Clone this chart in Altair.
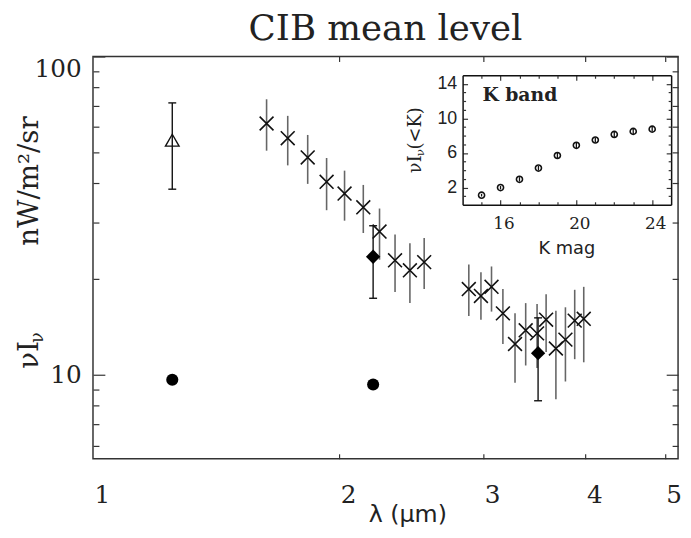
import altair as alt
import pandas as pd

# ---------------- data ----------------
# IRTS-like points (crosses) : wavelength (um), nuI_nu and 1-sigma range
cross_lam = [1.63, 1.73, 1.83, 1.93, 2.03, 2.14, 2.24, 2.34, 2.44, 2.54,
             2.88, 2.98, 3.07, 3.17, 3.28, 3.38, 3.49, 3.58, 3.68, 3.78, 3.88, 3.98]
cross_val = [61.6, 55.4, 48.2, 40.4, 37.1, 33.6, 28.2, 22.9, 21.3, 22.6,
             18.6, 17.7, 18.9, 15.6, 12.5, 13.8, 13.5, 14.9, 12.1, 12.9, 14.8, 15.0]
cross_lo = [50.6, 45.5, 39.8, 32.9, 30.5, 27.9, 23.0, 18.2, 16.8, 18.6,
            15.3, 14.9, 15.8, 12.5, 9.45, 10.7, 10.5, 11.8, 8.38, 9.53, 11.2, 10.95]
cross_hi = [73.4, 65.1, 56.7, 48.0, 43.8, 39.5, 33.3, 27.6, 25.9, 26.9,
            22.2, 21.0, 21.9, 18.6, 15.6, 16.8, 16.7, 17.9, 15.9, 16.3, 18.5, 18.9]

tri_lam = [1.25]
tri_val = [54.6]
tri_lo = [38.3]
tri_hi = [71.5]

dia_lam = [2.2, 3.5]
dia_val = [23.5, 11.7]
dia_lo = [17.4, 8.29]
dia_hi = [29.4, 15.1]

circ_lam = [1.25, 2.2]
circ_val = [9.65, 9.33]

# inset: K band integrated light
inset_k = [15, 16, 17, 18, 19, 20, 21, 22, 23, 24]
inset_v = [1.11, 1.99, 2.95, 4.25, 5.71, 6.89, 7.50, 8.15, 8.50, 8.76]
inset_err = [0.15, 0.2, 0.25, 0.25, 0.3, 0.3, 0.3, 0.3, 0.3, 0.3]

# tick labels
x_ticks = [1, 2, 3, 4, 5]
x_minor = [2, 3, 4, 5]
y_major = [10, 100]
y_minor = [6, 7, 8, 9, 20, 30, 40, 50, 60, 70, 80, 90]
ix_major = [16, 20, 24]
ix_minor = [15, 17, 18, 19, 21, 22, 23]
iy_major = [2, 6, 10, 14]
iy_minor = [1, 3, 4, 5, 7, 8, 9, 11, 12, 13]

# texts
title_text = "CIB mean level"
x_title = "λ (μm)"
y_title_main = "νI"
y_title_sub = "ν"
y_title_units = "nW/m²/sr"
inset_title_x = "K mag"
inset_y_parts = ["νI", "ν", "(<K)"]
inset_label = "K band"

# ---------------- layout ----------------
W, H = 592, 407
xs = alt.Scale(type="log", domain=[1, 5.19], nice=False)
ys = alt.Scale(type="log", domain=[5.45, 100], nice=False)
ixs = alt.Scale(type="linear", domain=[14, 25], range=[374, 585], nice=False, zero=False)
iys = alt.Scale(type="linear", domain=[0, 15], range=[150, 19], nice=False, zero=False)

cross_df = pd.DataFrame({"lam": cross_lam, "v": cross_val, "lo": cross_lo, "hi": cross_hi})
tri_df = pd.DataFrame({"lam": tri_lam, "v": tri_val, "lo": tri_lo, "hi": tri_hi})
dia_df = pd.DataFrame({"lam": dia_lam, "v": dia_val, "lo": dia_lo, "hi": dia_hi})
circ_df = pd.DataFrame({"lam": circ_lam, "v": circ_val})
ins_df = pd.DataFrame({"k": inset_k, "v": inset_v,
                       "lo": [a - b for a, b in zip(inset_v, inset_err)],
                       "hi": [a + b for a, b in zip(inset_v, inset_err)]})

INK = "#111"


def tick_axis(orient, offset, values, size, domain=False):
    return alt.Axis(orient=orient, offset=offset, values=values, labels=False,
                    ticks=True, tickSize=size, tickColor="#333", tickWidth=1.2,
                    domain=domain, domainColor=INK, domainWidth=1.5, grid=False)


def carrier(df, xf, yf, xscale, yscale, xaxis=None, yaxis=None):
    return alt.Chart(df).mark_point(opacity=0).encode(
        x=alt.X(f"{xf}:Q", scale=xscale, axis=xaxis, title=None),
        y=alt.Y(f"{yf}:Q", scale=yscale, axis=yaxis, title=None),
    )


layers = []

# ---- main axes ----
ax_x_lab = alt.Axis(orient="bottom", values=x_ticks, format="d", ticks=False, tickSize=0,
                    domain=False, grid=False, labelFont="DejaVu Serif", labelFontSize=25,
                    labelColor="#222", labelPadding=44, labelBaseline="alphabetic",
                    labelAlign="left", labelOffset=1, labelFlush=False,
                    titleFont="DejaVu Sans", titleFontSize=24, titleFontWeight="normal",
                    titleColor="#222", titleX=318, titleY=64, titleBaseline="alphabetic",
                    titleAlign="center")
ax_y_lab = alt.Axis(orient="left", values=y_major, format="d", ticks=False, tickSize=0,
                    domain=False, grid=False, labelFont="DejaVu Serif", labelFontSize=25,
                    labelColor="#222", labelPadding=12, labelFlush=True, labelFlushOffset=0)

layers.append(alt.Chart(circ_df).mark_point(opacity=0).encode(
    x=alt.X("lam:Q", scale=xs, axis=ax_x_lab, title=x_title),
    y=alt.Y("v:Q", scale=ys, axis=ax_y_lab, title=None)))
layers.append(carrier(circ_df, "lam", "v", xs, ys,
                      tick_axis("top", -H, x_minor, 5), tick_axis("right", -W, y_major, 12)))
layers.append(carrier(circ_df, "lam", "v", xs, ys,
                      tick_axis("bottom", -H, x_minor, 5), tick_axis("left", -W, y_major, 12)))
layers.append(carrier(circ_df, "lam", "v", xs, ys, None, tick_axis("right", -W, y_minor, 6)))
layers.append(carrier(circ_df, "lam", "v", xs, ys, None, tick_axis("left", -W, y_minor, 6)))

# ---- main data ----
layers.append(alt.Chart(cross_df).mark_rule(color="#666", strokeWidth=1.6).encode(
    x=alt.X("lam:Q", scale=xs, axis=None),
    y=alt.Y("lo:Q", scale=ys, axis=None), y2="hi:Q"))
layers.append(alt.Chart(cross_df).mark_point(
    shape="M-1,-1L1,1M-1,1L1,-1", filled=False, color=INK, strokeWidth=1.6, size=196, opacity=1
).encode(x=alt.X("lam:Q", scale=xs, axis=None), y=alt.Y("v:Q", scale=ys, axis=None)))

for df in (tri_df, dia_df):
    layers.append(alt.Chart(df).mark_rule(color=INK, strokeWidth=1.4).encode(
        x=alt.X("lam:Q", scale=xs, axis=None),
        y=alt.Y("lo:Q", scale=ys, axis=None), y2="hi:Q"))
    for f in ("lo", "hi"):
        layers.append(alt.Chart(df).mark_tick(orient="horizontal", size=8, thickness=1.4,
                                              color=INK, opacity=1).encode(
            x=alt.X("lam:Q", scale=xs, axis=None),
            y=alt.Y(f"{f}:Q", scale=ys, axis=None)))

layers.append(alt.Chart(tri_df).mark_point(shape="triangle-up", filled=False, color=INK,
                                           strokeWidth=1.4, size=190, opacity=1).encode(
    x=alt.X("lam:Q", scale=xs, axis=None), y=alt.Y("v:Q", scale=ys, axis=None)))
layers.append(alt.Chart(dia_df).mark_point(shape="diamond", filled=True, color="#000",
                                           size=210, opacity=1).encode(
    x=alt.X("lam:Q", scale=xs, axis=None), y=alt.Y("v:Q", scale=ys, axis=None)))
layers.append(alt.Chart(circ_df).mark_point(shape="circle", filled=True, color="#000",
                                            size=150, opacity=1).encode(
    x=alt.X("lam:Q", scale=xs, axis=None), y=alt.Y("v:Q", scale=ys, axis=None)))

# ---- inset axes ----
ax_ix_lab = alt.Axis(orient="bottom", offset=-(H - 150), values=ix_major, format="d",
                     ticks=False, tickSize=0, domain=False, grid=False,
                     labelFont="DejaVu Serif", labelFontSize=17, labelColor="#222",
                     labelPadding=11, labelOffset=3, labelFlush=False,
                     titleFont="DejaVu Sans", titleFontSize=18, titleFontWeight="normal",
                     titleColor="#222", titleX=479, titleY=49, titleBaseline="alphabetic",
                     titleAlign="center")
ax_iy_lab = alt.Axis(orient="left", offset=-374, values=iy_major, format="d",
                     ticks=False, tickSize=0, domain=False, grid=False,
                     labelFont="Liberation Sans", labelFontSize=18, labelColor="#222",
                     labelPadding=6, labelFlush=False)
layers.append(alt.Chart(ins_df).mark_point(opacity=0).encode(
    x=alt.X("k:Q", scale=ixs, axis=ax_ix_lab, title=inset_title_x),
    y=alt.Y("v:Q", scale=iys, axis=ax_iy_lab, title=None)))
layers.append(carrier(ins_df, "k", "v", ixs, iys,
                      tick_axis("top", -150, ix_major, 5, True),
                      tick_axis("right", -(W - 374), iy_major, 5, True)))
layers.append(carrier(ins_df, "k", "v", ixs, iys,
                      tick_axis("bottom", -(H - 19), ix_major, 5, True),
                      tick_axis("left", -585, iy_major, 5, True)))
layers.append(carrier(ins_df, "k", "v", ixs, iys,
                      tick_axis("top", -150, ix_minor, 3),
                      tick_axis("right", -(W - 374), iy_minor, 3)))
layers.append(carrier(ins_df, "k", "v", ixs, iys,
                      tick_axis("bottom", -(H - 19), ix_minor, 3),
                      tick_axis("left", -585, iy_minor, 3)))

# ---- inset data ----
layers.append(alt.Chart(ins_df).mark_rule(color=INK, strokeWidth=1.3).encode(
    x=alt.X("k:Q", scale=ixs, axis=None),
    y=alt.Y("lo:Q", scale=iys, axis=None), y2="hi:Q"))
layers.append(alt.Chart(ins_df).mark_point(shape="circle", filled=False, color=INK,
                                           strokeWidth=1.6, size=38, opacity=1).encode(
    x=alt.X("k:Q", scale=ixs, axis=None), y=alt.Y("v:Q", scale=iys, axis=None)))


# ---- free texts ----
def text_layer(txt, x, y, size, font="DejaVu Serif", angle=0, align="left", weight="normal"):
    return alt.Chart(pd.DataFrame({"t": [txt]})).mark_text(
        font=font, fontSize=size, angle=angle, align=align, baseline="alphabetic",
        fontWeight=weight, color="#222").encode(
        x=alt.value(x), y=alt.value(y), text="t:N")


layers.append(text_layer(title_text, W / 2, -17, 36, align="center"))
layers.append(text_layer(y_title_main, -56, 316, 28, angle=270))
layers.append(text_layer(y_title_sub, -51, 290, 18, angle=270))
layers.append(text_layer(y_title_units, -56, 126, 28, angle=270, align="center"))
layers.append(text_layer(inset_y_parts[0], 332, 118, 18, angle=270))
layers.append(text_layer(inset_y_parts[1], 335, 101, 12, angle=270))
layers.append(text_layer(inset_y_parts[2], 332, 94, 18, angle=270))
layers.append(text_layer(inset_label, 394, 45, 19, weight="bold"))

chart = alt.layer(*layers).resolve_scale(
    x="independent", y="independent"
).resolve_axis(
    x="independent", y="independent"
).properties(
    width=W, height=H,
    padding={"left": 86, "top": 46, "right": 5, "bottom": 69},
    autosize=alt.AutoSizeParams(type="none"),
).configure_view(
    stroke="#333", strokeWidth=1.5
).configure_axis(grid=False)

chart.save("out.html", embed_options={"renderer": "svg", "actions": False})
